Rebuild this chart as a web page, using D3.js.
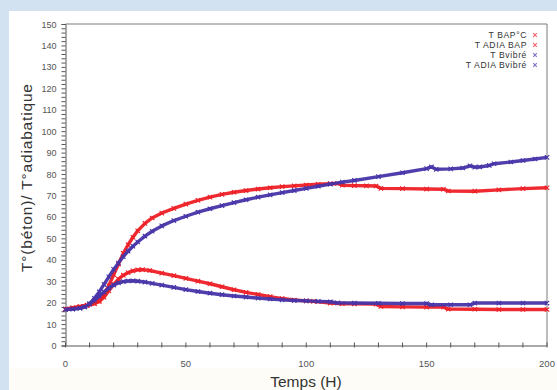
<!DOCTYPE html>
<html><head><meta charset="utf-8">
<script src="https://cdn.jsdelivr.net/npm/d3@7"></script>
<style>
html,body{margin:0;padding:0;background:#d3e2f1;}
svg{display:block;}
</style></head>
<body>
<svg id="c" width="557" height="390"></svg>
<script>
// ---- data ----
const xTicks = [0, 50, 100, 150, 200];
const yTicks = [0,10,20,30,40,50,60,70,80,90,100,110,120,130,140,150];
const seriesNames = ["T BAP°C", "T ADIA BAP", "T Bvibré", "T ADIA Bvibré"];
const seriesColors = ["#ee1f26", "#ee1f26", "#4634a8", "#4634a8"];

const tBapT = [0,3,6,9,12,14,16,18,20,22,24,26,28,30,33,36,40,45,50,55,60,65,70,75,80,85,90,95,100,105,110,113,115,120,125,129,131,140,150,157,159,170,180,190,200];
const tBapV = [17,17.5,18,18.6,19.5,21,24,28,33,38,43,47,50.5,53.5,57,59.5,61.8,64,66,67.7,69.2,70.5,71.5,72.3,73,73.6,74.1,74.5,74.9,75.2,75.5,75.6,74.8,74.6,74.5,74.4,73.3,73.2,73.0,72.9,72.1,72.0,72.6,73.2,73.6];

const tAdiaBapT = [0,3,6,9,12,14,16,18,20,22,24,26,28,30,32,35,40,45,50,55,60,65,70,75,80,85,90,95,100,103,110,115,120,129,131,140,150,157,159,170,180,190,200];
const tAdiaBapV = [17,17.6,18.2,18.8,19.6,20.5,22.5,25.5,28.5,31,32.8,34,34.8,35.3,35.4,35,33.8,32.6,31.3,30,28.8,27.4,26,24.8,23.8,22.8,21.9,21.2,20.8,20.6,19.8,19.5,19.4,19.3,18.2,18,17.9,17.9,17.0,16.9,16.8,16.8,16.8];

const tBvibT = [0,3,6,8,10,12,14,16,18,20,22,24,26,28,30,33,36,40,45,50,55,60,65,70,75,80,85,90,95,100,105,110,115,120,130,140,150,152,154,160,165,168,170,172,176,178,185,190,195,200];
const tBvibV = [16.8,17,17.3,18,19.5,22,25,28.5,32,35.5,38.5,41.5,44,46.3,48.3,51,53.3,55.8,58.3,60.3,62.2,63.8,65.3,66.7,68,69.2,70.3,71.3,72.3,73.3,74.3,75.3,76.2,77,78.8,80.6,82.5,83.3,82.2,82.4,82.8,83.8,83.2,83.3,84.0,84.8,85.6,86.3,87,87.8];

const tAdiaBvibT = [0,3,6,8,10,12,14,16,18,20,22,24,26,28,30,33,36,40,45,50,55,60,65,70,75,80,85,90,95,100,105,110,113,120,130,140,150,152,160,168,170,180,190,200];
const tAdiaBvibV = [16.8,17.1,17.5,18,19.3,21,23,25,26.8,28.2,29.2,29.8,30.1,30.2,30,29.6,29,28.2,27.1,26.1,25.2,24.4,23.7,23.1,22.6,22.1,21.7,21.3,21.0,20.8,20.6,20.4,19.9,19.8,19.7,19.6,19.6,19.0,19.0,19.0,19.8,19.8,19.8,19.8];

const series = [
  {name: seriesNames[0], color: seriesColors[0], t: tBapT, v: tBapV},
  {name: seriesNames[2], color: seriesColors[2], t: tBvibT, v: tBvibV},
  {name: seriesNames[1], color: seriesColors[1], t: tAdiaBapT, v: tAdiaBapV},
  {name: seriesNames[3], color: seriesColors[3], t: tAdiaBvibT, v: tAdiaBvibV}
];

// ---- layout ----
const svg = d3.select("#c");
const L = 65.5, R = 547, T = 24, B = 345.5;
const FONT = "Liberation Sans, Arial, sans-serif";
svg.append("rect").attr("x", 9).attr("y", 11).attr("width", 548).attr("height", 379).attr("fill", "#ffffff");
svg.append("rect").attr("x", 9).attr("y", 368).attr("width", 548).attr("height", 22).attr("fill", "#fdfcf6");

const x = d3.scaleLinear().domain([0, 200]).range([L, R]);
const y = d3.scaleLinear().domain([0, 150]).range([B, T]);

// frame top & right
svg.append("path").attr("d", `M${L},${T}H${R}V${B}`).attr("fill", "none").attr("stroke", "#7a7a7a").attr("stroke-width", 1);

// x axis
const xAx = svg.append("g").attr("transform", `translate(0,${B})`)
  .call(d3.axisBottom(x).tickValues(d3.range(0, 201, 10)).tickSize(0).tickFormat(""));
xAx.select(".domain").attr("stroke", "#555");
svg.append("g").selectAll("line").data(d3.range(0, 201, 10)).join("line")
  .attr("x1", d => x(d)).attr("x2", d => x(d)).attr("y1", B - 3).attr("y2", B + 2)
  .attr("stroke", "#555").attr("stroke-width", 1);
svg.append("g").selectAll("text").data(xTicks).join("text")
  .attr("x", d => x(d)).attr("y", B + 21)
  .attr("text-anchor", "middle").attr("font-family", FONT)
  .attr("font-size", 9.5).attr("fill", "#555").text(d => d);

// y axis
const yAx = svg.append("g").attr("transform", `translate(${L},0)`)
  .call(d3.axisLeft(y).tickValues(d3.range(0, 151, 2)).tickSize(4).tickFormat(""));
yAx.select(".domain").attr("stroke", "#555");
yAx.selectAll(".tick line").attr("stroke", "#555");
svg.append("g").selectAll("text").data(yTicks).join("text")
  .attr("x", L - 9).attr("y", d => y(d) + 3.5)
  .attr("text-anchor", "end").attr("font-family", FONT)
  .attr("font-size", 9).attr("fill", "#555").text(d => d);

// axis titles
svg.append("text").attr("x", 306).attr("y", 387).attr("text-anchor", "middle")
  .attr("font-family", FONT).attr("font-size", 15.5)
  .attr("fill", "#333").text("Temps (H)");
svg.append("text").attr("transform", "translate(32,178) rotate(-90)").attr("text-anchor", "middle")
  .attr("font-family", FONT).attr("font-size", 15.5)
  .attr("textLength", 188).attr("lengthAdjust", "spacing")
  .attr("fill", "#333").text("T°(béton)/ T°adiabatique");

// series
const line = d3.line().x(d => x(d[0])).y(d => y(d[1]));
const xMark = (cx, cy, r) => `M${cx-r},${cy-r}L${cx+r},${cy+r}M${cx-r},${cy+r}L${cx+r},${cy-r}`;
series.forEach(s => {
  const pts = s.t.map((t, i) => [t, s.v[i]]);
  svg.append("path").datum(pts).attr("d", line).attr("fill", "none")
    .attr("stroke", s.color).attr("stroke-width", 3.4).attr("stroke-linejoin", "round").attr("opacity", 0.95);
  svg.append("path").attr("d", pts.map(p => xMark(x(p[0]), y(p[1]), 2.2)).join(""))
    .attr("fill", "none").attr("stroke", s.color).attr("stroke-width", 1.1);
});

// legend
const legend = svg.append("g");
seriesNames.forEach((n, i) => {
  const ly = 35 + i * 10;
  legend.append("text").attr("x", 527).attr("y", ly + 3).attr("text-anchor", "end")
    .attr("font-family", FONT).attr("font-size", 8.6).attr("letter-spacing", 0.6)
    .attr("fill", "#333").text(n);
  legend.append("path").attr("d", xMark(535, ly, 1.8)).attr("fill", "none")
    .attr("stroke", seriesColors[i]).attr("stroke-width", 1.1).attr("opacity", 0.7);
});
</script>
</body></html>
